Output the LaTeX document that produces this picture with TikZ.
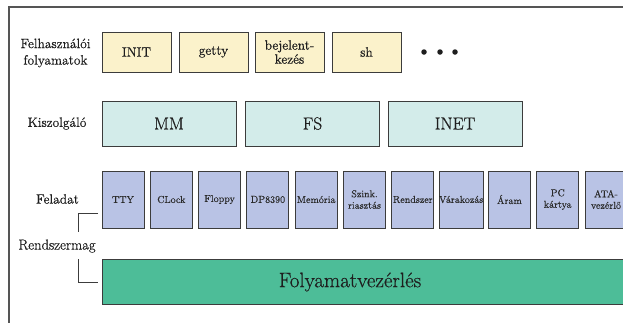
\documentclass[tikz,border=0pt]{standalone}
\usepackage{fontspec}
\setmainfont{Latin Modern Roman}[FakeBold=0.6]
\newfontfamily\lightlm{Latin Modern Roman}[FakeBold=0.2]
\begin{document}
\begin{tikzpicture}[x=1pt,y=-1pt,
  every node/.style={text=txtgray},
  layerbox/.style={draw=edgegray,line width=0.9pt,rectangle,inner sep=0pt,align=center},
  userbox/.style={layerbox,fill=useryellow,minimum width=69,minimum height=40,
    font=\fontsize{13.5}{14}\selectfont},
  srvbox/.style={layerbox,fill=srvcyan,minimum width=134,minimum height=45,
    font=\fontsize{17.5}{18}\selectfont},
  taskbox/.style={layerbox,fill=taskblue,minimum width=42,minimum height=57,
    font=\lightlm\fontsize{10}{11.5}\selectfont,text=taskgray},
  kernbar/.style={layerbox,fill=kerngreen,minimum width=540,minimum height=45},
  sidelabel/.style={align=center,font=\fontsize{13.5}{16.5}\selectfont},
  bracketline/.style={draw=edgegray,line width=1pt},
  dot/.style={circle,fill=txtgray,inner sep=0pt,minimum size=5.5}
]
\definecolor{useryellow}{HTML}{FBF2CB}
\definecolor{srvcyan}{HTML}{D3ECEA}
\definecolor{taskblue}{HTML}{B9C3E5}
\definecolor{kerngreen}{HTML}{4DBD98}
\definecolor{edgegray}{HTML}{3C3C3C}
\definecolor{framegray}{HTML}{555555}
\definecolor{txtgray}{HTML}{1E1E1E}
\definecolor{taskgray}{HTML}{2A2A2A}

\useasboundingbox (0,0) rectangle (623,322);
\clip (0,0) rectangle (623,322);

% outer frame
\draw[framegray,line width=1.2pt] (9,330) -- (9,7) -- (630,7);

% user processes
\node[sidelabel] (lblusr) at (55.5,53) {Felhasználói\\folyamatok};
\node[userbox] (init)  at (136.5,52) {INIT};
\node[userbox] (getty) at (213.5,52) {getty};
\node[userbox] (login) at (289.5,52) {bejelent-\\kezés};
\node[userbox] (sh)    at (366.5,52) {sh};
\node[dot] (d1) at (424,52) {};
\node[dot] (d2) at (440,52) {};
\node[dot] (d3) at (455,52) {};

% servers
\node[sidelabel] (lblsrv) at (57,123.5) {Kiszolgáló};
\node[srvbox] (mm)   at (169,123.5) {MM};
\node[srvbox] (fs)   at (312.5,123.5) {FS};
\node[srvbox] (inet) at (455,123.5) {INET};

% kernel tasks
\node[sidelabel] (lbltask) at (57.5,199) {Feladat};
\node[taskbox] (tty)    at (123.0,199.5) {TTY};
\node[taskbox] (clock)  at (171.3,199.5) {CLock};
\node[taskbox] (floppy) at (219.6,199.5) {Floppy};
\node[taskbox] (dp)     at (267.9,199.5) {DP8390};
\node[taskbox] (mem)    at (316.2,199.5) {Memória};
\node[taskbox] (sync)   at (364.5,199.5) {Szink.\\riasztás};
\node[taskbox] (sys)    at (412.8,199.5) {Rendszer};
\node[taskbox] (wait)   at (461.1,199.5) {Várakozás};
\node[taskbox] (power)  at (509.4,199.5) {Áram};
\node[taskbox] (pccard) at (557.7,199.5) {PC\\kártya};
\node[taskbox] (ata)    at (606.0,199.5) {ATA-\\vezérlő};

% process control layer
\node[kernbar] (kern) at (372,281.5) {};
\node[font=\fontsize{21}{22}\selectfont] (kerntxt) at (350,282) {Folyamatvezérlés};

% kernel bracket
\node[sidelabel,font=\fontsize{14.5}{16}\selectfont] (lblkern) at (57,246) {Rendszermag};
\coordinate (bt) at (98,213);
\coordinate (bb) at (98,282);
\draw[bracketline] (bt) -- (78,213) -- (78,232);
\draw[bracketline] (78,259) -- (78,282) -- (bb);
\end{tikzpicture}
\end{document}
